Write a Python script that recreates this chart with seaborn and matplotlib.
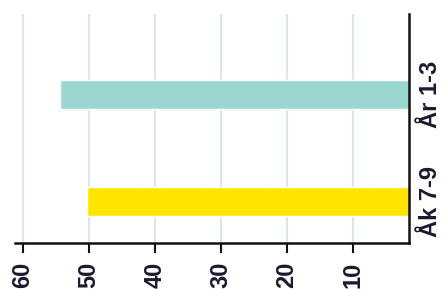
import matplotlib
matplotlib.use('Agg')
import matplotlib.pyplot as plt
import pandas as pd
import seaborn as sns

categories = ['År 1-3', 'Åk 7-9']
values = [54.4, 50.3]
colors = ['#9bd6d1', '#ffe400']
ticks = [60, 50, 40, 30, 20, 10]

df = pd.DataFrame({'grupp': categories, 'andel': values})

sns.set_style('white')
plt.rcParams['font.family'] = ['Liberation Sans Narrow', 'Liberation Sans', 'DejaVu Sans']

fig = plt.figure(figsize=(4.41, 2.89), dpi=100)
ax = fig.add_axes([15 / 441, 46 / 289, 394 / 441, 229 / 289])

sns.barplot(data=df, x='andel', y='grupp', hue='grupp', palette=colors,
            orient='h', width=0.27, legend=False, saturation=1, ax=ax)

# reversed value axis, categories on the right
ax.set_xlim(61.2, 1.5)
ax.set_ylim(1.39, -0.75)
ax.set_xticks(ticks)
ax.set_xlabel('')
ax.set_ylabel('')
ax.xaxis.grid(True, color='#dde4ea', linewidth=1.5)
ax.set_axisbelow(True)

ax.yaxis.tick_right()
for side in ['top', 'left']:
    ax.spines[side].set_visible(False)
for side in ['bottom', 'right']:
    ax.spines[side].set_color('#111111')
    ax.spines[side].set_linewidth(1.8)

ax.tick_params(axis='x', bottom=True, length=7.5, width=1.5, color='#111111',
               pad=6, labelsize=17, labelrotation=90, labelcolor='#1a1a2e')
ax.tick_params(axis='y', right=False, left=False, pad=4, labelsize=17,
               labelrotation=90, labelcolor='#1a1a2e')
for lbl in ax.get_xticklabels() + ax.get_yticklabels():
    lbl.set_fontweight('bold')
for lbl in ax.get_yticklabels():
    lbl.set_va('center')

fig.savefig('out.png', dpi=100)
